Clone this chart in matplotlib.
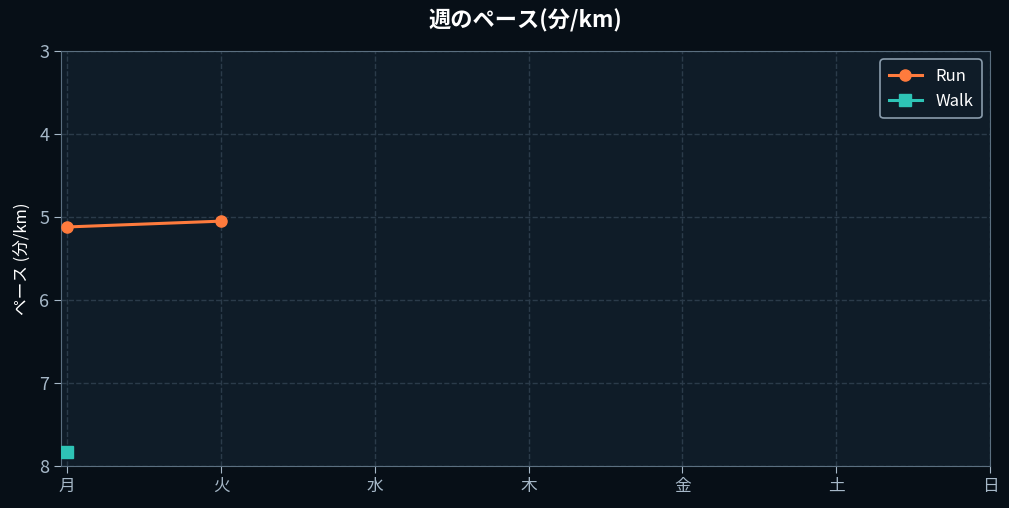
import matplotlib
matplotlib.use("Agg")
import matplotlib.pyplot as plt
import numpy as np

plt.rcParams['font.family'] = ['Noto Sans CJK JP', 'DejaVu Sans']

days = ['月', '火', '水', '木', '金', '土', '日']
run_pace = [5.12, 5.05, None, None, None, None, None]
walk_pace = [7.83, None, None, None, None, None, None]
yticks = [3, 4, 5, 6, 7, 8]

bg_fig = '#070f17'
bg_ax = '#0f1c28'
spine_c = '#5b6f80'
tick_c = '#a6b8c8'
grid_c = '#2b3b4a'
run_c = '#ff7b3d'
walk_c = '#2ec4b6'

fig = plt.figure(figsize=(10.09, 5.08), dpi=100, facecolor=bg_fig)
ax = fig.add_axes([0.0605, 0.0827, 0.9206, 0.8169])
ax.set_facecolor(bg_ax)

x = np.arange(len(days))
r = np.array([np.nan if v is None else v for v in run_pace], dtype=float)
w = np.array([np.nan if v is None else v for v in walk_pace], dtype=float)
ax.plot(x, r, color=run_c, marker='o', markersize=8, linewidth=2.2, label='Run', zorder=3)
ax.plot(x, w, color=walk_c, marker='s', markersize=8, linewidth=2.2, label='Walk', zorder=3)

ax.set_xlim(-0.04, 6)
ax.set_ylim(8, 3)
ax.set_xticks(x)
ax.set_xticklabels(days)
ax.set_yticks(yticks)
ax.grid(True, color=grid_c, linestyle='--', linewidth=1)
ax.set_axisbelow(True)

for s in ax.spines.values():
    s.set_color(spine_c)
ax.tick_params(axis='y', colors=tick_c, labelsize=13, length=5)
ax.tick_params(axis='x', colors=tick_c, labelsize=12, length=5)

ax.set_ylabel('ペース (分/km)', color='white', fontsize=12)
ax.yaxis.set_label_coords(-0.032, 0.5)
ax.set_title('週のペース(分/km)', color='white', fontsize=16, fontweight='bold', pad=17)

leg = ax.legend(loc='upper right', fontsize=12, facecolor=bg_ax, edgecolor='#8a9cac',
                framealpha=1, labelcolor='white', borderaxespad=0.5, borderpad=0.5)
leg.get_frame().set_linewidth(1.2)

fig.savefig('out.png', dpi=100, facecolor=bg_fig)
